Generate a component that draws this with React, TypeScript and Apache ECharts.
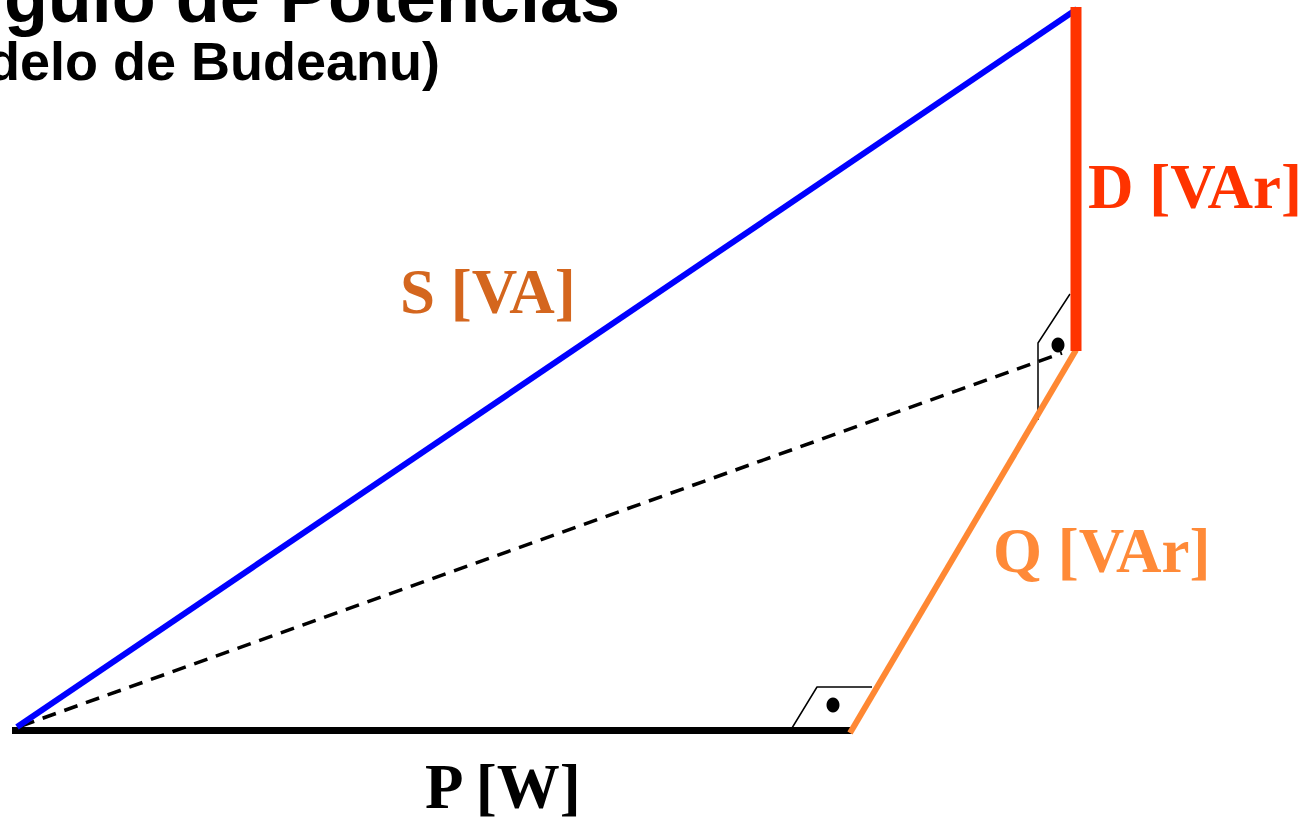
import React, { useEffect, useRef } from "react";
import * as echarts from "echarts";

// Diagram vertices (data space = page coordinates, y downward)
const pSegment = [[12, 730.5], [853, 730.5]];
const qSegment = [[850, 733], [1076, 350]];
const dSegment = [[1076, 351], [1076, 7]];
const sSegment = [[17, 727], [1077, 9]];
const dashedSegment = [[21, 726], [1062, 353]];
const rightAngleBottom = [[792, 728], [817, 687], [872, 687]];
const rightAngleTop = [[1038, 420], [1038, 343], [1070, 294]];
const dots = [[833, 705], [1058, 345]];

const titleText = "Triângulo de Potências";
const subtitleText = "(Modelo de Budeanu)";
const labelTexts = ["S [VA]", "Q [VAr]", "P [W]", "D [VAr]"];

const W = 1312;
const H = 822;

export default function App() {
  const ref = useRef<HTMLDivElement>(null);
  useEffect(() => {
    if (!ref.current) return;
    const chart = echarts.init(ref.current, undefined, { renderer: "svg" });
    const seg = (data: number[][], color: string, width: number, type: any = "solid", cap: any = "butt") => ({
      type: "line",
      data,
      symbol: "none",
      silent: true,
      lineStyle: { color, width, type, cap },
    });
    const serif = "'Liberation Serif', 'Times New Roman', serif";
    const sans = "'Liberation Sans', Arial, sans-serif";
    const FS = 63;
    const lab = (text: string, x: number, baseline: number, color: string) => ({
      type: "text",
      x,
      y: baseline - 0.3375 * FS,
      style: {
        text,
        fill: color,
        font: `bold ${FS}px ${serif}`,
        textAlign: "left",
        textVerticalAlign: "middle",
      },
    });
    chart.setOption({
      animation: false,
      backgroundColor: "#ffffff",
      grid: { left: 0, right: 0, top: 0, bottom: 0 },
      xAxis: { type: "value", min: 0, max: W, show: false },
      yAxis: { type: "value", min: 0, max: H, inverse: true, show: false },
      series: [
        seg(dashedSegment, "#000000", 3.5, [14, 9]),
        seg(rightAngleBottom, "#000000", 1.5),
        seg(rightAngleTop, "#000000", 1.5),
        seg(pSegment, "#000000", 7),
        seg(sSegment, "#0000FF", 6),
        seg(qSegment, "#FF8833", 6),
        seg(dSegment, "#FF3300", 11),
        {
          type: "scatter",
          data: dots,
          symbol: "circle",
          symbolSize: [13, 15],
          itemStyle: { color: "#000000", opacity: 1 },
          silent: true,
        },
      ],
      graphic: [
        {
          type: "text",
          x: 620,
          y: 22 - 0.3465 * 72,
          style: {
            text: titleText,
            fill: "#000000",
            font: `bold 72px ${sans}`,
            textAlign: "right",
            textVerticalAlign: "middle",
          },
        },
        {
          type: "text",
          x: 440,
          y: 80 - 0.3465 * 54,
          style: {
            text: subtitleText,
            fill: "#000000",
            font: `bold 54px ${sans}`,
            textAlign: "right",
            textVerticalAlign: "middle",
          },
        },
        lab(labelTexts[0], 400, 313, "#D4661E"),
        lab(labelTexts[1], 993, 572, "#FF8A38"),
        lab(labelTexts[2], 425, 808, "#000000"),
        lab(labelTexts[3], 1088, 208, "#FF3300"),
      ],
    });
    return () => chart.dispose();
  }, []);
  return (
    <div
      ref={ref}
      style={{ position: "fixed", left: 0, top: 0, width: W, height: H, background: "#fff" }}
    />
  );
}
